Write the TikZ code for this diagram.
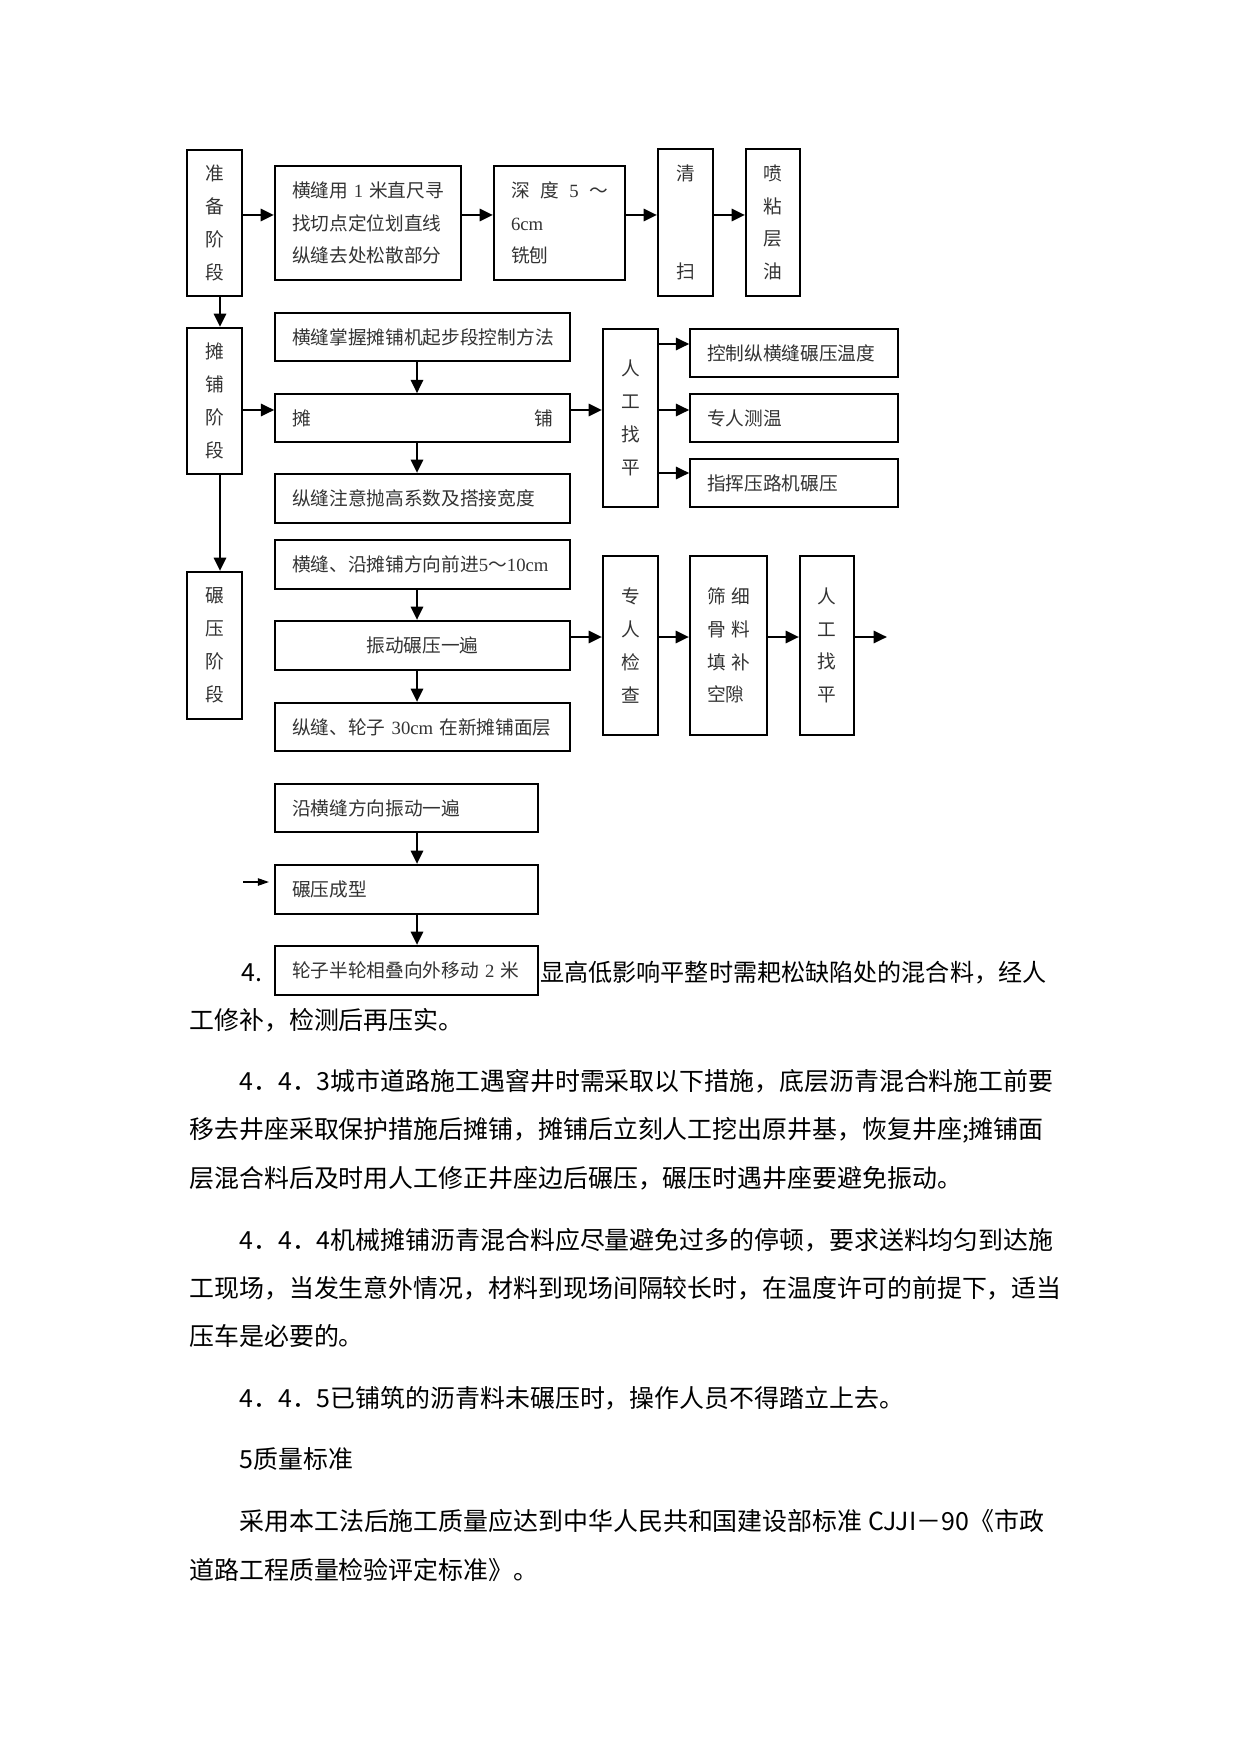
\documentclass[tikz,border=0pt]{standalone}
\usepackage{fontspec}
\setmainfont{Noto Sans CJK SC}
\newfontfamily\tms{Liberation Serif}
\usetikzlibrary{arrows.meta}
\newlength\pxl
\setlength\pxl{0.16922mm}
\newcommand\boxfont{\fontsize{9pt}{15.8pt}\selectfont}
\newcommand\bodyfont{\fontsize{12pt}{14pt}\selectfont}
\tikzstyle{stagebox} = [draw, line width=1pt, minimum width=55\pxl, inner sep=0pt,
  align=center, font=\boxfont, text=black!80]
\tikzstyle{workbox} = [draw, line width=1pt, inner xsep=17\pxl, inner ysep=0pt,
  align=left, font=\boxfont, text=black!80]
\tikzstyle{thinbox} = [workbox, line width=0.7pt]
\tikzstyle{diredge} = [line width=1.3pt, -{Triangle[length=6.4pt,width=5.8pt]}]
\tikzstyle{thinedge} = [line width=0.6pt, -{Triangle[length=5.4pt,width=3.6pt]}, shorten >=2.4pt]
\tikzstyle{para} = [anchor=west, inner sep=0pt, font=\bodyfont]

\begin{document}
\begin{tikzpicture}[x=0.16922mm, y=-0.16922mm]
    \useasboundingbox (0,0) rectangle (1241,1754);
    \coordinate (ra) at (0,215);
    \coordinate (rb) at (0,410);
    \coordinate (rc1) at (0,344);
    \coordinate (rc3) at (0,473);
    \coordinate (rd) at (0,637);
    \coordinate (ca) at (220,0);
    \coordinate (cb) at (417,0);
    \coordinate (inl) at (243,882);
    \coordinate (outr) at (887,637);

    % preparation
    \node[stagebox, minimum height=146\pxl] (zb) at (214.5,223) {准\\备\\阶\\段};
    \node[workbox, text width=152\pxl, minimum height=114\pxl] (hf) at (368,223)
        {横缝用\hfill{\tms 1}\hfill 米直尺寻\\找切点定位划直线\\纵缝去处松散部分};
    \node[workbox, text width=97\pxl, minimum height=114\pxl] (sd) at (559.5,223)
        {深\hfill 度\hfill{\tms 5}\hfill ～\\{\tms 6cm}\\铣刨};
    \node[stagebox, minimum height=147\pxl] (qs) at (685.5,222.5) {清\\\mbox{}\\\mbox{}\\扫};
    \node[stagebox, minimum height=147\pxl, minimum width=54\pxl] (pn) at (773,222.5) {喷\\粘\\层\\油};

    % paving
    \node[stagebox, minimum height=146\pxl] (tp) at (214.5,401) {摊\\铺\\阶\\段};
    \node[thinbox, text width=261\pxl, minimum height=48\pxl] (kz) at (422.5,337)
        {横缝掌握摊铺机起步段控制方法};
    \node[thinbox, text width=261\pxl, minimum height=48\pxl] (tpu) at (422.5,418) {摊\hfill 铺};
    \node[workbox, text width=261\pxl, minimum height=49\pxl] (zf) at (422.5,498.5)
        {纵缝注意抛高系数及搭接宽度};
    \node[stagebox, minimum height=178\pxl] (rg1) at (630.5,418) {人\\工\\找\\平};
    \node[thinbox, text width=174\pxl, minimum height=48\pxl] (c1) at (794,353) {控制纵横缝碾压温度};
    \node[thinbox, text width=174\pxl, minimum height=48\pxl] (c2) at (794,418) {专人测温};
    \node[thinbox, text width=174\pxl, minimum height=48\pxl] (c3) at (794,483) {指挥压路机碾压};

    % rolling
    \node[stagebox, minimum height=147\pxl] (ny) at (214.5,645.5) {碾\\压\\阶\\段};
    \node[workbox, text width=261\pxl, minimum height=49\pxl] (hy) at (422.5,564.5)
        {横缝、沿摊铺方向前进{\tms 5}～{\tms 10cm}};
    \node[workbox, text width=261\pxl, minimum height=49\pxl, align=center] (zd) at (422.5,645.5)
        {振动碾压一遍};
    \node[workbox, text width=261\pxl, minimum height=48\pxl] (lz) at (422.5,727)
        {纵缝、轮子 {\tms 30cm} 在新摊铺面层};
    \node[stagebox, minimum height=179\pxl] (zr) at (630.5,645.5) {专\\人\\检\\查};
    \node[workbox, text width=43\pxl, minimum height=179\pxl] (sx) at (728.5,645.5)
        {筛\hfill 细\\骨\hfill 料\\填\hfill 补\\空隙};
    \node[stagebox, minimum height=179\pxl, minimum width=54\pxl] (rg2) at (827,645.5) {人\\工\\找\\平};

    \node[workbox, text width=229\pxl, minimum height=48\pxl] (yh) at (406.5,808) {沿横缝方向振动一遍};
    \node[workbox, text width=229\pxl, minimum height=49\pxl] (cx) at (406.5,889.5) {碾压成型};
    \node[workbox, text width=229\pxl, minimum height=49\pxl] (lb) at (406.5,970.5)
        {轮子半轮相叠向外移动 {\tms 2} 米};

    \draw[diredge] (zb.east |- ra) -- (hf.west |- ra);
    \draw[diredge] (hf.east |- ra) -- (sd.west |- ra);
    \draw[diredge] (sd.east |- ra) -- (qs.west |- ra);
    \draw[diredge] (qs.east |- ra) -- (pn.west |- ra);
    \draw[diredge] (zb.south -| ca) -- (tp.north -| ca);
    \draw[diredge] (tp.south -| ca) -- (ny.north -| ca);
    \draw[diredge] (tp.east |- rb) -- (tpu.west |- rb);
    \draw[diredge] (kz.south -| cb) -- (tpu.north -| cb);
    \draw[diredge] (tpu.south -| cb) -- (zf.north -| cb);
    \draw[diredge] (tpu.east |- rb) -- (rg1.west |- rb);
    \draw[diredge] (rg1.east |- rc1) -- (c1.west |- rc1);
    \draw[diredge] (rg1.east |- rb) -- (c2.west |- rb);
    \draw[diredge] (rg1.east |- rc3) -- (c3.west |- rc3);
    \draw[diredge] (hy.south -| cb) -- (zd.north -| cb);
    \draw[diredge] (zd.south -| cb) -- (lz.north -| cb);
    \draw[diredge] (zd.east |- rd) -- (zr.west |- rd);
    \draw[diredge] (zr.east |- rd) -- (sx.west |- rd);
    \draw[diredge] (sx.east |- rd) -- (rg2.west |- rd);
    \draw[diredge] (rg2.east |- rd) -- (outr);
    \draw[diredge] (yh.south -| cb) -- (cx.north -| cb);
    \draw[diredge] (cx.south -| cb) -- (lb.north -| cb);
    \draw[thinedge] (inl) -- (cx.west |- inl);

    % body text
    \node[para] (t0) at (241,973) {4.};
    \node[para, font=\fontsize{11.6pt}{14pt}\selectfont] (t1) at (540,973)
        {显高低影响平整时需耙松缺陷处的混合料，经人};
    \node[para] (t2) at (189,1020) {工修补，检测后再压实。};
    \node[para] (t3) at (239,1081) {4．4．3城市道路施工遇窨井时需采取以下措施，底层沥青混合料施工前要};
    \node[para] (t4) at (189,1130) {移去井座采取保护措施后摊铺，摊铺后立刻人工挖出原井基，恢复井座;摊铺面};
    \node[para] (t5) at (189,1178) {层混合料后及时用人工修正井座边后碾压，碾压时遇井座要避免振动。};
    \node[para] (t6) at (239,1240) {4．4．4机械摊铺沥青混合料应尽量避免过多的停顿，要求送料均匀到达施};
    \node[para] (t7) at (189,1288) {工现场，当发生意外情况，材料到现场间隔较长时，在温度许可的前提下，适当};
    \node[para] (t8) at (189,1336) {压车是必要的。};
    \node[para] (t9) at (239,1398) {4．4．5已铺筑的沥青料未碾压时，操作人员不得踏立上去。};
    \node[para] (t10) at (239,1459) {5质量标准};
    \node[para] (t11) at (239,1521) {采用本工法后施工质量应达到中华人民共和国建设部标准 CJJI－90《市政};
    \node[para] (t12) at (189,1570) {道路工程质量检验评定标准》。};
\end{tikzpicture}
\end{document}
